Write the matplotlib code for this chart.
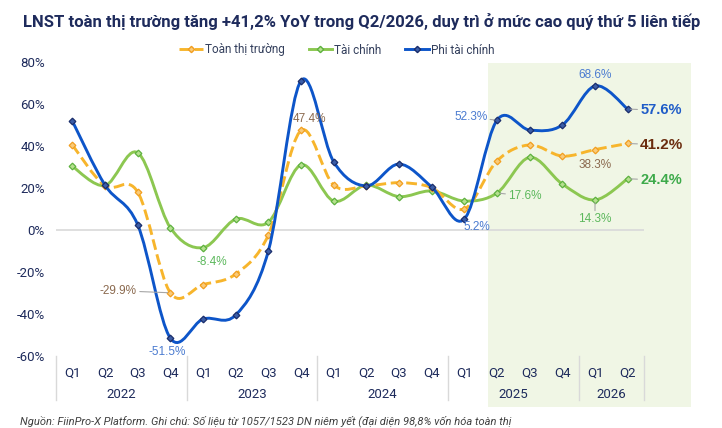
import matplotlib
matplotlib.use("Agg")
import matplotlib.pyplot as plt
from matplotlib.path import Path
from matplotlib.patches import PathPatch, Rectangle
from matplotlib.lines import Line2D
import matplotlib.transforms as mtransforms
import numpy as np

quarters = ["Q1", "Q2", "Q3", "Q4"] * 4 + ["Q1", "Q2"]
years = ["2022", "2023", "2024", "2025", "2026"]
year_sizes = [4, 4, 4, 4, 2]

toan_thi_truong = [40.5, 21.0, 18.1, -29.9, -26.0, -21.0, -2.4, 47.4, 21.4,
                   21.0, 22.5, 20.2, 10.0, 32.9, 40.5, 35.2, 38.3, 41.2]
tai_chinh = [30.3, 21.2, 36.8, 1.1, -8.4, 5.2, 3.7, 31.0, 13.8,
             21.4, 15.9, 18.6, 13.8, 17.6, 34.6, 21.9, 14.3, 24.4]
phi_tai_chinh = [51.9, 21.4, 2.5, -51.5, -42.4, -40.5, -10.0, 71.1, 32.5,
                 21.0, 31.4, 20.5, 5.2, 52.3, 47.6, 50.0, 68.6, 57.6]
yticks = [80, 60, 40, 20, 0, -20, -40, -60]

title = "LNST toàn thị trường tăng +41,2% YoY trong Q2/2026, duy trì ở mức cao quý thứ 5 liên tiếp"
footer = "Nguồn: FiinPro-X Platform. Ghi chú: Số liệu từ 1057/1523 DN niêm yết (đại diện 98,8% vốn hóa toàn thị"

FONT = ["Liberation Sans Narrow", "Roboto", "DejaVu Sans"]
plt.rcParams["font.family"] = FONT

C_OR = "#F7B52C"
C_GR = "#8CC751"
C_BL = "#0D55C9"
NAVY = "#1E2B5C"


def smooth_path(xs, ys):
    pts = np.column_stack([xs, ys]).astype(float)
    n = len(pts)
    verts = [pts[0]]
    codes = [Path.MOVETO]
    for i in range(n - 1):
        p0 = pts[i - 1] if i > 0 else pts[i]
        p1 = pts[i]
        p2 = pts[i + 1]
        p3 = pts[i + 2] if i + 2 < n else pts[i + 1]
        c1 = p1 + (p2 - p0) / 6.0
        c2 = p2 - (p3 - p1) / 6.0
        verts += [c1, c2, p2]
        codes += [Path.CURVE4] * 3
    return Path(verts, codes)


fig = plt.figure(figsize=(7.22, 4.28), dpi=100)
ax = fig.add_axes([56 / 722, 1 - 356 / 428, 588 / 722, 294 / 428])
ax.patch.set_alpha(0)

x = np.arange(len(quarters))
ax.set_xlim(-0.5, len(quarters) - 0.5)
ax.set_ylim(-60, 80)

# highlight region (2025 Q2 onwards)
blend = mtransforms.blended_transform_factory(ax.transData, fig.transFigure)
hl = Rectangle((12.72, 1 - 407 / 428), 6.21, 344 / 428, transform=blend,
               facecolor="#F0F6E5", edgecolor="none", zorder=0, clip_on=False)
ax.add_patch(hl)

# zero line
ax.axhline(0, color="#D9D9D9", lw=1.2, zorder=1)

for spine in ax.spines.values():
    spine.set_visible(False)
ax.set_xticks([])
ax.set_yticks(yticks)
ax.set_yticklabels([f"{v}%" for v in yticks], color=NAVY, fontsize=9.5)
ax.tick_params(axis="y", length=0, pad=8)

series = [
    (toan_thi_truong, C_OR, "--", "#F29E1F", "#F9CB7A", "Toàn thị trường"),
    (tai_chinh, C_GR, "-", "#5DB13F", "#B6E08E", "Tài chính"),
    (phi_tai_chinh, C_BL, "-", "#1A2D6B", "#3B5EA8", "Phi tài chính"),
]
zs = [3, 2, 4]
for (vals, col, ls, mec, mfc, lab), z in zip(series, zs):
    pp = PathPatch(smooth_path(x, vals), facecolor="none", edgecolor=col,
                   lw=2.1, linestyle=ls, zorder=z, capstyle="butt")
    ax.add_patch(pp)
    ax.plot(x, vals, linestyle="none", marker="D", markersize=3.4,
            markerfacecolor=mfc, markeredgecolor=mec, markeredgewidth=0.9, zorder=z + 0.5)

# x-axis category labels
xtr = mtransforms.blended_transform_factory(ax.transData, ax.transAxes)
for i, q in enumerate(quarters):
    ax.text(i, -0.058, q, transform=xtr, ha="center", va="center",
            fontsize=9.5, color=NAVY)
start = 0
bounds = [-0.5]
for yname, sz in zip(years, year_sizes):
    ax.text(start + (sz - 1) / 2, -0.13, yname, transform=xtr, ha="center",
            va="center", fontsize=9.5, color=NAVY)
    start += sz
    bounds.append(start - 0.5)
for b in bounds:
    ax.plot([b, b], [0, -0.15], transform=xtr, color="#D9D9D9", lw=1.0,
            clip_on=False)

# data labels
C_LBR = "#8B6A4F"
C_LBL = "#4A7BD0"
C_LGR = "#5CB85C"


def lbl(i, vals, txt_dx, txt_dy, color, ha="center", va="center", size=8.5,
        weight="normal", leader=False):
    v = vals[i]
    ax.annotate(f"{v:.1f}%", xy=(i, v), xytext=(txt_dx, txt_dy),
                textcoords="offset points", ha=ha, va=va, fontsize=size,
                color=color, fontweight=weight, zorder=6,
                arrowprops=dict(arrowstyle="-", color="#A6A6A6", lw=0.8,
                                shrinkA=0, shrinkB=2) if leader else None,
                family=["Liberation Sans", "DejaVu Sans"])


lbl(7, toan_thi_truong, 6, 8, C_LBR)
lbl(3, toan_thi_truong, -24, 1.5, C_LBR, ha="right", leader=True)
lbl(3, phi_tai_chinh, -2, -10, C_LBL)
lbl(4, tai_chinh, 6, -10, C_LGR)
lbl(12, phi_tai_chinh, 9, -6, C_LBL)
lbl(13, phi_tai_chinh, -7, 2, C_LBL, ha="right", leader=True)
lbl(13, tai_chinh, 8, -2, C_LGR, ha="left", leader=True)
lbl(16, phi_tai_chinh, 0, 8, C_LBL)
lbl(16, tai_chinh, 0, -14, C_LGR, leader=True)
lbl(16, toan_thi_truong, 0, -11, C_LBR)
lbl(17, phi_tai_chinh, 9, -1, "#1F5CC8", ha="left", size=10.5, weight="bold", leader=True)
lbl(17, toan_thi_truong, 9, -1, "#6B2C0E", ha="left", size=11, weight="bold", leader=True)
lbl(17, tai_chinh, 9, -1, "#3DAA4A", ha="left", size=10.5, weight="bold", leader=True)

# legend
handles = [Line2D([], [], color=c, ls=ls, lw=2.1, marker="D", markersize=3.2,
                  markerfacecolor=mfc, markeredgecolor=mec)
           for (_, c, ls, mec, mfc, _) in series]
labels = [s[5] for s in series]
fig.legend(handles, labels, loc="center", bbox_to_anchor=(337 / 722, 1 - 50 / 428),
           ncol=3, frameon=False, fontsize=8.5, handlelength=2.0,
           handletextpad=0.2, columnspacing=2.0, labelcolor="#333F5C")

fig.text(23 / 722, 1 - 22 / 428, title, ha="left", va="center", fontsize=12,
         fontweight="bold", color=NAVY)
fig.text(20 / 722, 1 - 421 / 428, footer, ha="left", va="center", fontsize=8,
         style="italic", color="#404040")

fig.savefig("out.png", dpi=100)
